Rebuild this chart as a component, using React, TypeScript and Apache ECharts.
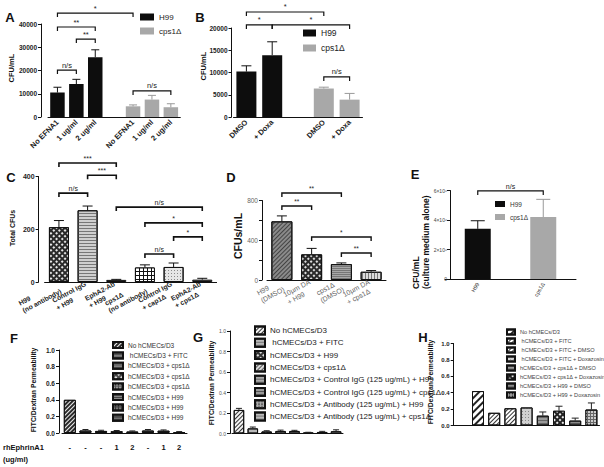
import React, { useEffect, useRef } from 'react';
import * as echarts from 'echarts';

const FONT = '"Liberation Sans", Arial, Helvetica, sans-serif';

// ---------------- Panel A ----------------
const aCategories = ['No EFNA1', '1 ug/ml', '2 ug/ml', '', 'No EFNA1', '1 ug/ml', '2 ug/ml'];
const aH99 = [10500, 14200, 25700, null, null, null, null];
const aH99Top = [12800, 16200, 28900, null, null, null, null];
const aCps = [null, null, null, null, 4600, 7500, 4200];
const aCpsTop = [null, null, null, null, 5200, 9300, 5700];
const aBrackets = [[0, 4, 44700], [0, 2, 38700], [1, 2, 33500], [0, 1, 20200], [4, 6, 11200]];
const aBracketLabels = ['*', '**', '**', 'n/s', 'n/s'];

// ---------------- Panel B ----------------
const bCategories = ['DMSO', '+ Doxa', '', 'DMSO', '+ Doxa'];
const bH99 = [10200, 13900, null, null, null];
const bH99Top = [11500, 16900, null, null, null];
const bCps = [null, null, null, 6400, 3900];
const bCpsTop = [null, null, null, 6700, 5300];
const bBrackets = [[0, 3, 23600], [0, 1, 20700], [1, 4, 20700], [3, 4, 9000]];
const bBracketLabels = ['*', '*', '*', 'n/s'];

// ---------------- Panel C ----------------
const cCategories = ['H99\n(no antibody)', 'Control IgG\n+ H99', 'EphA2-Ab\n+ H99', 'cps1Δ\n(no antibody)', 'Control IgG\n+ cap1Δ', 'EphA2-Ab\n+ cps1Δ'];
const cValues = [208, 272, 8, 55, 57, 9];
const cTop = [233, 288, 10, 65, 72, 14];
const cBrackets = [[0, 2, 451], [1, 2, 405], [0, 1, 337], [2, 5, 284], [3, 5, 224], [4, 5, 171], [3, 4, 106]];
const cBracketLabels = ['***', '***', 'n/s', 'n/s', '*', '*', 'n/s'];

// ---------------- Panel D ----------------
const dCategories = ['H99\n(DMSO)', '10µm DA\n+ H99', 'cps1Δ\n(DMSO)', '10µm DA\n+ cps1Δ'];
const dValues = [590, 258, 160, 83];
const dTop = [645, 318, 172, 95];
const dBrackets = [[0, 2, 875], [0, 1, 744], [1, 3, 433], [2, 3, 272]];
const dBracketLabels = ['**', '**', '*', '**'];

// ---------------- Panel E ----------------
const eCategories = ['H99', 'cps1Δ'];
const eH99 = [3400000, null];
const eH99Top = [3950000, null];
const eCps = [null, 4200000];
const eCpsTop = [null, 5400000];
const eBrackets = [[0, 1, 5970000]];
const eBracketLabels = ['n/s'];

// ---------------- Panel F ----------------
const fCategories = ['-', '-', '-', '1', '2', '-', '1', '2'];
const fLegend = ['No hCMECs/D3', ' hCMECs/D3 + FITC', 'hCMECs/D3 + cps1Δ', 'hCMECs/D3 + cps1Δ', 'hCMECs/D3 + cps1Δ', 'hCMECs/D3 + H99', 'hCMECs/D3 + H99', 'hCMECs/D3 + H99'];
const fValues = [0.40, 0.03, 0.025, 0.022, 0.018, 0.03, 0.028, 0.012];
const fTop = [0.40, 0.042, 0.033, 0.03, 0.025, 0.042, 0.037, 0.017];

// ---------------- Panel G ----------------
const gLegend = ['No hCMECs/D3', ' hCMECs/D3 + FITC', 'hCMECs/D3 + H99', 'hCMECs/D3 + cps1Δ', 'hCMECs/D3 + Control IgG (125 ug/mL) + H99', 'hCMECs/D3 + Control IgG (125 ug/mL) + cps1Δ', 'hCMECs/D3 + Antibody (125 ug/mL) + H99', 'hCMECs/D3 + Antibody (125 ug/mL) + cps1Δ'];
const gValues = [0.23, 0.05, 0.02, 0.025, 0.025, 0.008, 0.015, 0.022];
const gTop = [0.245, 0.063, 0.027, 0.033, 0.031, 0.012, 0.021, 0.036];

// ---------------- Panel H ----------------
const hLegend = ['No hCMECs/D3', ' hCMECs/D3 + FITC', ' hCMECs/D3 + FITC + DMSO', ' hCMECs/D3 + FITC + Doxazosin', 'hCMECs/D3 + cps1Δ + DMSO', 'hCMECs/D3 + cps1Δ + Doxazosin', 'hCMECs/D3 + H99 + DMSO', 'hCMECs/D3 + H99 + Doxazosin'];
const hValues = [0.42, 0.155, 0.21, 0.22, 0.12, 0.18, 0.06, 0.195];
const hTop = [0.42, 0.155, 0.21, 0.22, 0.165, 0.235, 0.09, 0.275];

// ---------------- styles ----------------
const PI = Math.PI;
const lines = (fg: string, rot: number, w = 1, gap = 1.5) => ({ symbol: 'rect', symbolSize: 1, dashArrayX: [1, 0], dashArrayY: [w, gap], rotation: rot, color: fg });
const dots = (fg: string, size = 1.3, gap = 1.3, rot = 0) => ({ symbol: 'rect', symbolSize: 1, dashArrayX: [size, gap], dashArrayY: [size, gap], rotation: rot, color: fg });

const cColors = ['#2a2a2a', '#cfcfcf', '#555', '#111', '#e6e6e6', '#555'];
const cDecals: any[] = [dots('#e8e8e8', 1.4, 1.4, PI / 4), lines('#777', 0, 0.8, 1.6), null, dots('#fff', 2.6, 1), dots('#8a8a8a', 0.9, 1.6), null];
const dColors = ['#8a8a8a', '#2a2a2a', '#a8a8a8', '#dcdcdc'];
const dDecals: any[] = [lines('#444', -PI / 4, 1, 1.3), dots('#ddd', 1.3, 1.3, PI / 4), lines('#777', 0, 0.8, 1), lines('#777', PI / 2, 0.9, 1.4)];
const fColors = ['#2a2a2a', '#555', '#666', '#4a4a4a', '#555', '#444', '#3a3a3a', '#4a4a4a'];
const fDecals: any[] = [lines('#eee', -PI / 4, 1, 1.5), lines('#999', 0, 0.8, 1.2), lines('#888', 0, 0.8, 1.5), dots('#ddd', 1.2, 1.2, PI / 4), dots('#999', 2, 1), lines('#888', 0, 1, 1), dots('#777', 2, 1), lines('#777', 0, 1, 1.3)];
const gColors = ['#f4f4f4', '#b8b8b8', '#333', '#d8d8d8', '#a8a8a8', '#999', '#aaa', '#bbb'];
const gDecals: any[] = [lines('#333', -PI / 4, 0.9, 1.6), lines('#777', 0, 0.8, 1.4), dots('#ddd', 1.2, 1.2, PI / 4), lines('#555', -PI / 4, 0.8, 1.2), lines('#666', 0, 0.8, 1.3), lines('#555', 0, 0.8, 1.3), dots('#666', 2, 1), lines('#777', 0, 0.8, 1.3)];
const hColors = ['#fff', '#fff', '#fff', '#d0d0d0', '#9a9a9a', '#222', '#8a8a8a', '#666'];
const hDecals: any[] = [lines('#222', -PI / 4, 1.3, 2.2), lines('#333', -PI / 4, 0.8, 1.6), lines('#333', -PI / 4, 1, 1.8), dots('#888', 0.8, 1.2), lines('#666', 0, 0.8, 1.2), dots('#eee', 1.3, 1.3, PI / 4), lines('#555', 0, 0.8, 1.4), dots('#ccc', 2, 0.8)];

const GRIDS = [
  { left: 48, top: 24, width: 132.3, height: 93 },
  { left: 233.5, top: 28, width: 129, height: 89 },
  { left: 44.6, top: 176.5, width: 172, height: 105.5 },
  { left: 267, top: 200.5, width: 119, height: 79.5 },
  { left: 445, top: 190.5, width: 131, height: 88.5 },
  { left: 62, top: 350, width: 125, height: 83 },
  { left: 232, top: 331, width: 111, height: 102.5 },
  { left: 453.7, top: 343.5, width: 145.8, height: 82 },
];

const plainNum = (v: number) => String(v);
const fixed1 = (v: number) => v.toFixed(1);
const everyOther400 = (v: number) => (v % 400 === 0 ? String(v) : '');
const sci6 = (v: number) => (v === 0 ? '0' : `${v / 1000000}×10⁶`);

// y-axis configuration per panel (scale + look)
const Y_AXES = [
  { max: 40000, interval: 10000, offset: 7, fontSize: 6.5, bold: true, color: '#222', formatter: plainNum },
  { max: 20000, interval: 5000, offset: 2, fontSize: 6.5, bold: true, color: '#222', formatter: plainNum },
  { max: 400, interval: 200, offset: 6, fontSize: 7, bold: true, color: '#222', formatter: plainNum },
  { max: 800, interval: 200, offset: 5, fontSize: 6.5, bold: false, color: '#666', formatter: everyOther400 },
  { max: 6000000, interval: 2000000, offset: -5, fontSize: 5, bold: false, color: '#444', formatter: sci6 },
  { max: 1, interval: 0.2, offset: 3, fontSize: 6.5, bold: true, color: '#222', formatter: fixed1 },
  { max: 1, interval: 0.2, offset: 2, fontSize: 5, bold: false, color: '#555', formatter: fixed1 },
  { max: 1, interval: 0.2, offset: 0, fontSize: 6, bold: true, color: '#222', formatter: fixed1 },
];

function buildYAxes() {
  const labelStyle = (c: any, margin: number) => ({
    show: true, fontSize: c.fontSize, fontWeight: c.bold ? 'bold' : 'normal', color: c.color, margin, formatter: c.formatter,
  });
  // primary axes (line + ticks) used by series
  const primaries = Y_AXES.map((c, g) => ({
    type: 'value', gridIndex: g, position: 'left', min: 0, max: c.max, interval: c.interval, offset: c.offset,
    axisLine: { show: true, lineStyle: { color: '#111', width: 1 } },
    axisTick: { show: true, length: 3, lineStyle: { color: '#111', width: 1 } },
    splitLine: { show: false },
    axisLabel: c.offset < 0 ? labelStyle(c, 3) : { show: false },
  }));
  // companion axes that carry the tick labels for the same scale
  const labelAxes = Y_AXES.map((c, g) => ({ c, g }))
    .filter(({ c }) => c.offset >= 0)
    .map(({ c, g }) => ({
      type: 'value', gridIndex: g, position: 'left', min: 0, max: c.max, interval: c.interval, offset: -1,
      axisLine: { show: false }, axisTick: { show: false }, splitLine: { show: false },
      axisLabel: labelStyle(c, c.offset + 1 + 4),
    }));
  return [...primaries, ...labelAxes];
}

function xAxis(g: number, data: string[], label: any) {
  return {
    type: 'category', gridIndex: g, data,
    axisLine: { show: true, lineStyle: { color: '#111', width: 1 } },
    axisTick: { show: false },
    splitLine: { show: false },
    axisLabel: { interval: 0, ...label },
  };
}

function errSeries(g: number, vals: any[], tops: any[], cap: number, color: string, lead = 0) {
  const data = vals
    .map((v, i) => (v == null || tops[i] == null || tops[i] <= v ? null : [i + lead, v, tops[i]]))
    .filter((d) => d);
  return {
    type: 'custom', xAxisIndex: g, yAxisIndex: g, clip: false, silent: true, z: 4,
    data,
    renderItem: (params: any, api: any) => {
      const p0 = api.coord([api.value(0), api.value(1)]);
      const p1 = api.coord([api.value(0), api.value(2)]);
      return {
        type: 'group',
        children: [
          { type: 'line', shape: { x1: p0[0], y1: p0[1], x2: p1[0], y2: p1[1] }, style: { stroke: color, lineWidth: 1 } },
          { type: 'line', shape: { x1: p1[0] - cap, y1: p1[1], x2: p1[0] + cap, y2: p1[1] }, style: { stroke: color, lineWidth: 1 } },
        ],
      };
    },
  };
}

function bracketSeries(g: number, brackets: number[][], labels: string[], lw: number, fontSize: number, tick = 4) {
  return {
    type: 'custom', xAxisIndex: g, yAxisIndex: g, clip: false, silent: true, z: 5,
    encode: { x: 0, y: 2 },
    data: brackets,
    renderItem: (params: any, api: any) => {
      const y = api.value(2);
      const a = api.coord([api.value(0), y]);
      const b = api.coord([api.value(1), y]);
      return {
        type: 'group',
        children: [
          { type: 'polyline', shape: { points: [[a[0], a[1] + tick], [a[0], a[1]], [b[0], b[1]], [b[0], b[1] + tick]] }, style: { stroke: '#111', lineWidth: lw, fill: 'none' } },
          {
            type: 'text', x: (a[0] + b[0]) / 2, y: a[1] - 1,
            style: { text: labels[params.dataIndex], fontSize, fontFamily: FONT, fill: '#222', align: 'center', verticalAlign: 'bottom', textAlign: 'center', textVerticalAlign: 'bottom' },
          },
        ],
      };
    },
  };
}

function plainBar(g: number, name: string, vals: any[], color: string, width: number) {
  return { type: 'bar', name, xAxisIndex: g, yAxisIndex: g, barWidth: width, barGap: '-100%', data: vals, itemStyle: { color }, z: 2 };
}

function styledBar(g: number, name: string, vals: number[], colors: string[], decals: any[], width: number) {
  return {
    type: 'bar', name, xAxisIndex: g, yAxisIndex: g, barWidth: width,
    data: vals.map((v, i) => ({ value: v, itemStyle: { color: colors[i], decal: decals[i] || undefined, borderColor: '#111', borderWidth: 1 } })),
    z: 2,
  };
}

function legendBars(g: number, prefix: string, vals: number[], colors: string[], decals: any[], width: number, count: number, lead = 0) {
  return vals.map((v, i) => ({
    type: 'bar', name: prefix + i, xAxisIndex: g, yAxisIndex: g, barWidth: width, barGap: '-100%',
    data: Array.from({ length: count }, (_, j) => (j === i + lead ? v : null)),
    itemStyle: { color: colors[i], decal: decals[i], borderColor: '#111', borderWidth: 1 },
    z: 2,
  }));
}

const richLeft = (fontSize: number, color: string, weight: string) => ({
  formatter: (v: string) => v.split('\n').map((s) => `{l|${s}}`).join('\n'),
  rich: { l: { align: 'left', fontSize, color, fontWeight: weight, fontFamily: FONT, lineHeight: fontSize + 1.5 } },
});

function buildOption() {
  const legendMaps: Record<string, string> = {
    aH: 'H99', aC: 'cps1Δ', bH: 'H99', bC: 'cps1Δ', eH: 'H99', eC: 'cps1Δ',
  };
  fLegend.forEach((n, i) => (legendMaps['F' + i] = n));
  gLegend.forEach((n, i) => (legendMaps['G' + i] = n));
  hLegend.forEach((n, i) => (legendMaps['H' + i] = n));
  const fmt = (n: string) => legendMaps[n] ?? n;

  const hCategories = ['', ...hLegend.map(() => '')];

  const legendBase = { orient: 'vertical', icon: 'rect', padding: 0, selectedMode: false, formatter: fmt };

  const titles: [string, number, number, number][] = [
    ['CFU/mL', 11, 68, 7.5],
    ['CFU/mL', 203, 66, 7.5],
    ['Total CFUs', 12, 228, 7],
    ['CFUs/mL', 238, 236, 10.5],
    ['FITC/Dextran Permeability', 33, 390, 6.8],
    ['FITC/Dextran Permeability', 211, 383, 6.8],
    ['FITC/Dextran Permeability', 430, 382, 6.8],
  ];
  const letters: [string, number, number][] = [
    ['A', 10, 17], ['B', 200, 17], ['C', 11, 177], ['D', 231, 177], ['E', 415, 174], ['F', 14, 338], ['G', 198, 337], ['H', 423, 337],
  ];

  const graphic: any[] = [
    ...letters.map(([t, x, y]) => ({
      type: 'text', x, y,
      style: { text: t, fontSize: 13, fontWeight: 'bold', fontFamily: FONT, fill: '#111', align: 'center', verticalAlign: 'middle', textAlign: 'center', textVerticalAlign: 'middle' },
    })),
    ...titles.map(([t, x, y, fs]) => ({
      type: 'text', x, y, rotation: Math.PI / 2,
      style: { text: t, fontSize: fs, fontWeight: 'bold', fontFamily: FONT, fill: '#111', align: 'center', verticalAlign: 'middle', textAlign: 'center', textVerticalAlign: 'middle' },
    })),
    {
      type: 'text', x: 421, y: 289, rotation: Math.PI / 2,
      style: { text: 'CFU/mL\n(culture medium alone)', fontSize: 8.5, lineHeight: 10, fontWeight: 'bold', fontFamily: FONT, fill: '#111', align: 'left', verticalAlign: 'middle', textAlign: 'left', textVerticalAlign: 'middle' },
    },
    {
      type: 'text', x: 3, y: 447,
      style: { text: 'rhEphrinA1', fontSize: 7.5, fontWeight: 'bold', fontFamily: FONT, fill: '#111', align: 'left', verticalAlign: 'middle', textAlign: 'left', textVerticalAlign: 'middle' },
    },
    {
      type: 'text', x: 3, y: 459,
      style: { text: '(ug/ml)', fontSize: 7.5, fontWeight: 'bold', fontFamily: FONT, fill: '#111', align: 'left', verticalAlign: 'middle', textAlign: 'left', textVerticalAlign: 'middle' },
    },
  ];

  return {
    animation: false,
    backgroundColor: '#fff',
    textStyle: { fontFamily: FONT },
    grid: GRIDS.map((g) => ({ ...g })),
    xAxis: [
      xAxis(0, aCategories, { rotate: 45, fontSize: 7.5, fontWeight: 'bold', color: '#222', margin: 4 }),
      xAxis(1, bCategories, { rotate: 45, fontSize: 7.5, fontWeight: 'bold', color: '#222', margin: 4 }),
      xAxis(2, cCategories, { rotate: 28, margin: 5, ...richLeft(6.8, '#222', 'bold') }),
      xAxis(3, dCategories, { rotate: 28, margin: 5, ...richLeft(7, '#666', 'normal') }),
      xAxis(4, eCategories, { rotate: 60, fontSize: 5.5, color: '#333', margin: 4 }),
      xAxis(5, fCategories, { rotate: 0, fontSize: 7.5, fontWeight: 'bold', color: '#111', margin: 10 }),
      xAxis(6, gLegend, { show: false }),
      xAxis(7, hCategories, { show: false }),
    ],
    yAxis: buildYAxes(),
    legend: [
      { ...legendBase, left: 140, top: 12, itemWidth: 14, itemHeight: 7, itemGap: 4, data: ['aH', 'aC'], textStyle: { fontSize: 8, lineHeight: 10, color: '#222' } },
      { ...legendBase, left: 303, top: 28, itemWidth: 13, itemHeight: 7, itemGap: 5, data: ['bH', 'bC'], textStyle: { fontSize: 8.5, lineHeight: 10, color: '#222' } },
      { ...legendBase, left: 495, top: 200, itemWidth: 10, itemHeight: 6, itemGap: 5, data: ['eH', 'eC'], textStyle: { fontSize: 6.5, lineHeight: 8, color: '#333' } },
      { ...legendBase, left: 112, top: 341, itemWidth: 10, itemHeight: 6, itemGap: 2.4, data: fLegend.map((_, i) => 'F' + i), textStyle: { fontSize: 6.5, lineHeight: 8, color: '#333' } },
      { ...legendBase, left: 254, top: 325.5, itemWidth: 10, itemHeight: 8, itemGap: 2.3, data: gLegend.map((_, i) => 'G' + i), textStyle: { fontSize: 8, lineHeight: 9, color: '#222' } },
      { ...legendBase, left: 506, top: 328.5, itemWidth: 8, itemHeight: 5, itemGap: 2, data: hLegend.map((_, i) => 'H' + i), textStyle: { fontSize: 5.6, lineHeight: 7, color: '#444' } },
    ],
    series: [
      plainBar(0, 'aH', aH99, '#0d0d0d', 14.5),
      plainBar(0, 'aC', aCps, '#a8a8a8', 14.5),
      errSeries(0, aH99, aH99Top, 4, '#111'),
      errSeries(0, aCps, aCpsTop, 4, '#999'),
      bracketSeries(0, aBrackets, aBracketLabels, 1.2, 7.5),

      plainBar(1, 'bH', bH99, '#0d0d0d', 20),
      plainBar(1, 'bC', bCps, '#a8a8a8', 20),
      errSeries(1, bH99, bH99Top, 5, '#111'),
      errSeries(1, bCps, bCpsTop, 5, '#999'),
      bracketSeries(1, bBrackets, bBracketLabels, 1.2, 7.5),

      styledBar(2, 'C', cValues, cColors, cDecals, 20),
      errSeries(2, cValues, cTop, 5, '#111'),
      bracketSeries(2, cBrackets, cBracketLabels, 1.6, 7),

      styledBar(3, 'D', dValues, dColors, dDecals, 21),
      errSeries(3, dValues, dTop, 5, '#111'),
      bracketSeries(3, dBrackets, dBracketLabels, 1.4, 6.5),

      plainBar(4, 'eH', eH99, '#0d0d0d', 26),
      plainBar(4, 'eC', eCps, '#a8a8a8', 26),
      errSeries(4, eH99, eH99Top, 7, '#111'),
      errSeries(4, eCps, eCpsTop, 7, '#999'),
      bracketSeries(4, eBrackets, eBracketLabels, 1.2, 7),

      ...legendBars(5, 'F', fValues, fColors, fDecals, 12, fCategories.length),
      errSeries(5, fValues, fTop, 3, '#222'),

      ...legendBars(6, 'G', gValues, gColors, gDecals, 10.5, gLegend.length),
      errSeries(6, gValues, gTop, 3, '#222'),

      ...legendBars(7, 'H', hValues, hColors, hDecals, 12, hCategories.length, 1),
      errSeries(7, hValues, hTop, 3.5, '#222', 1),
    ],
    graphic,
  };
}

export default function App() {
  const ref = useRef<HTMLDivElement>(null);
  useEffect(() => {
    const chart = echarts.init(ref.current as HTMLDivElement, null, { renderer: 'svg' });
    chart.setOption(buildOption() as any);
    return () => chart.dispose();
  }, []);
  return <div ref={ref} style={{ position: 'fixed', left: 0, top: 0, width: 604, height: 467, background: '#fff' }} />;
}
